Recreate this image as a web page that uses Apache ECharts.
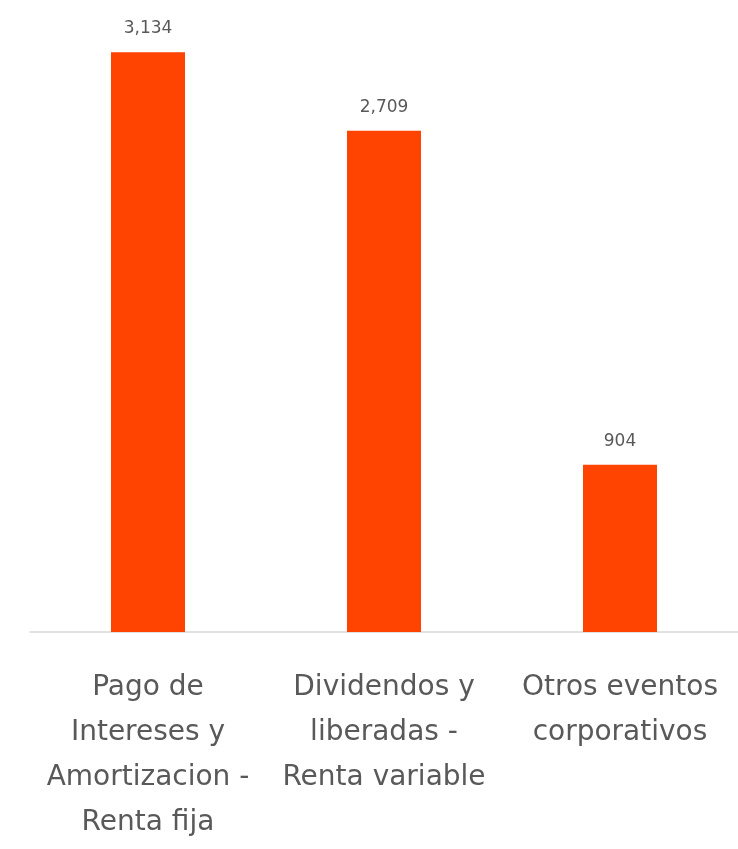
<!DOCTYPE html>
<html>
<head>
<meta charset="utf-8">
<script src="https://cdn.jsdelivr.net/npm/echarts@6/dist/echarts.min.js"></script>
<style>
  html, body { margin: 0; padding: 0; background: #ffffff; }
  #chart { width: 738px; height: 849px; }
</style>
</head>
<body>
<div id="chart"></div>
<script>
// Event categories (with manual line breaks) and their counts
const categories = [
  'Pago de\nIntereses y\nAmortizacion -\nRenta fija',
  'Dividendos y\nliberadas -\nRenta variable',
  'Otros eventos\ncorporativos'
];
const values = [3134, 2709, 904];

const chart = echarts.init(document.getElementById('chart'), null, { renderer: 'canvas' });

chart.setOption({
  animation: false,
  textStyle: { fontFamily: 'DejaVu Sans' },
  grid: { left: 30, right: 0, top: 40, bottom: 217, containLabel: false },
  xAxis: {
    type: 'category',
    data: categories,
    axisLine: { show: true, lineStyle: { color: '#d9d9d9', width: 1.5 } },
    axisTick: { show: false },
    axisLabel: {
      interval: 0,
      margin: 33,
      color: '#595959',
      fontSize: 28,
      lineHeight: 45,
      fontFamily: 'DejaVu Sans',
      align: 'center'
    }
  },
  yAxis: {
    type: 'value',
    min: 0,
    max: 3200,
    show: false,
    splitLine: { show: false }
  },
  series: [{
    type: 'bar',
    data: values,
    barWidth: 74,
    itemStyle: { color: '#ff4300' },
    label: {
      show: true,
      position: 'top',
      distance: 15,
      color: '#595959',
      fontSize: 17,
      fontFamily: 'DejaVu Sans',
      formatter: p => p.value.toLocaleString('en-US')
    }
  }]
});
</script>
</body>
</html>
